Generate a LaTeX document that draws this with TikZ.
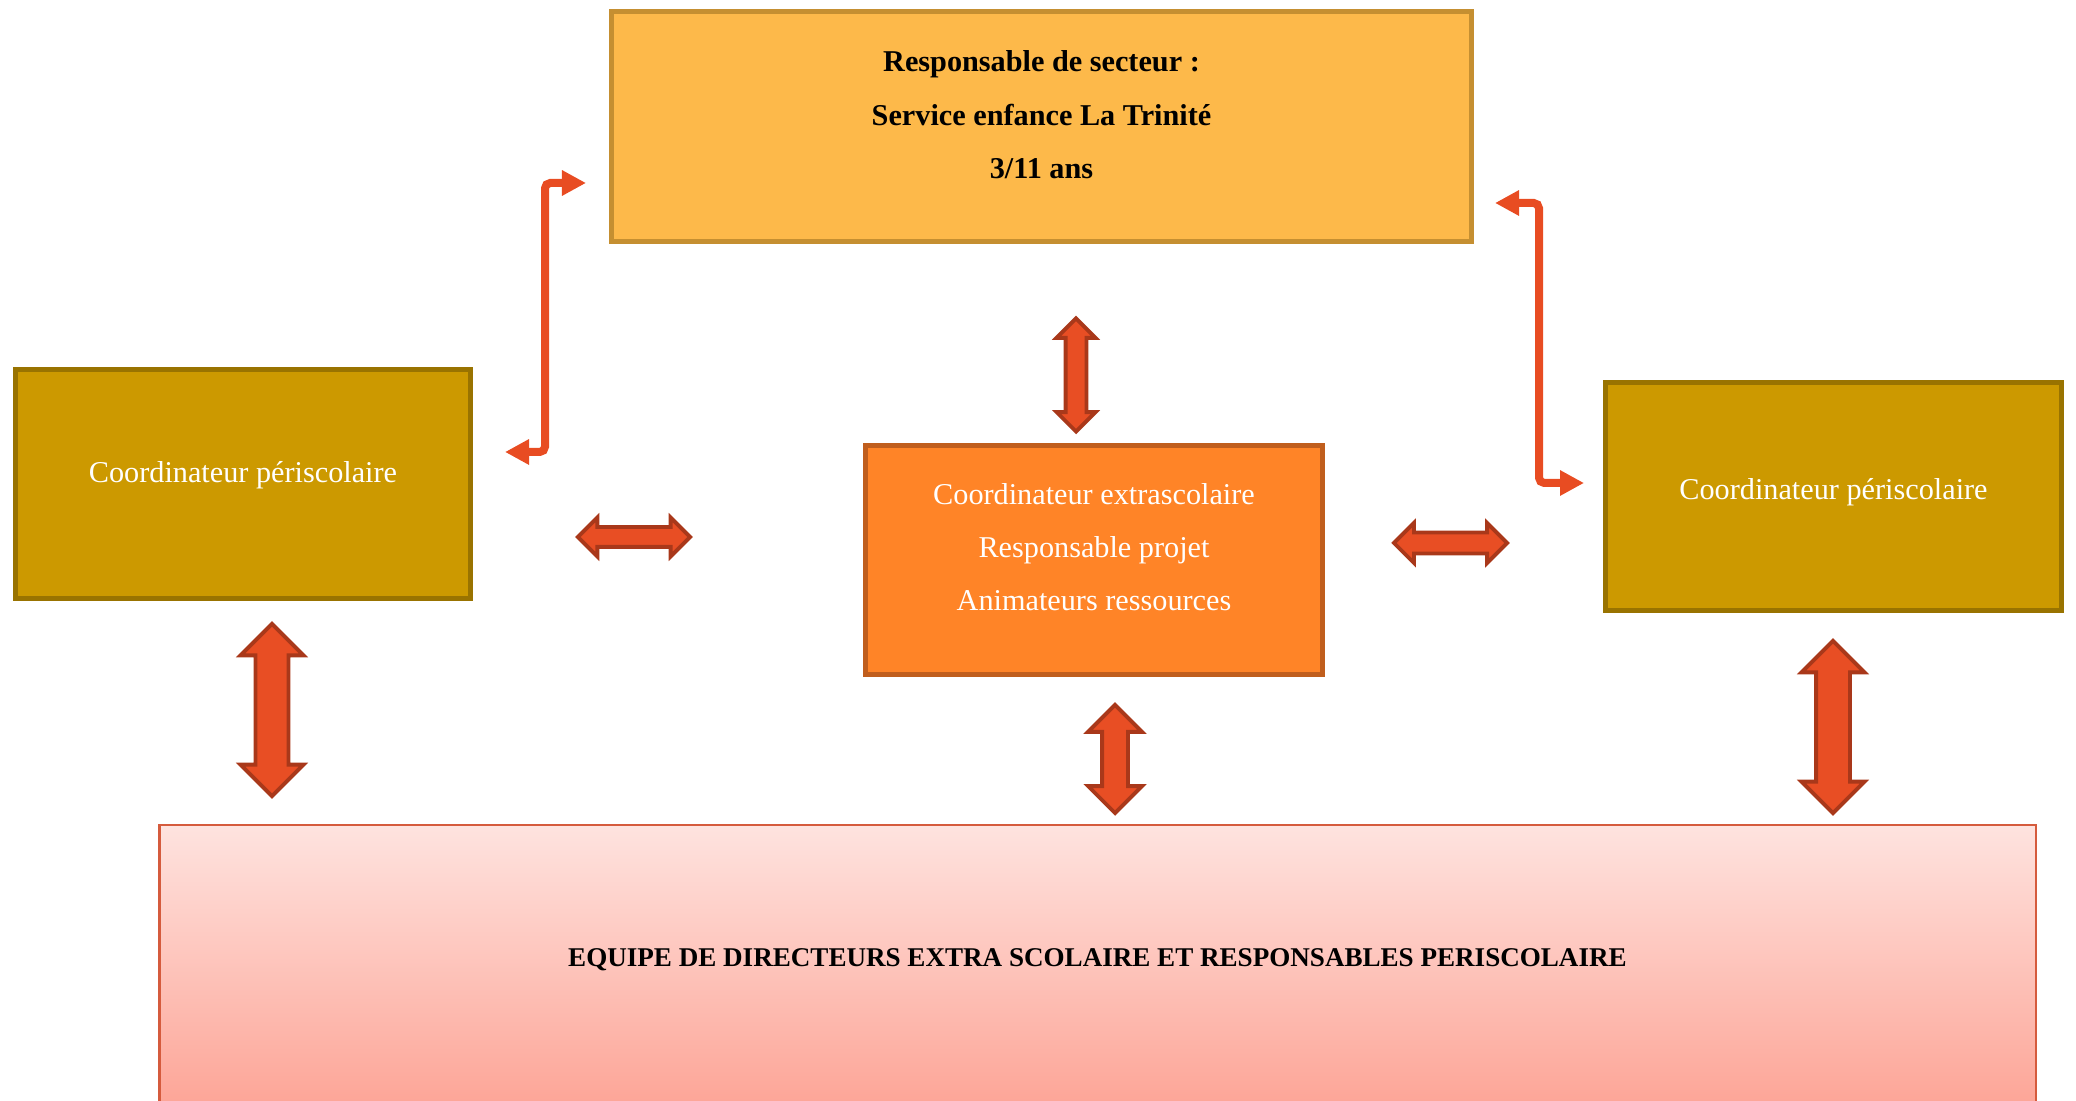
\documentclass[tikz,border=0pt]{standalone}
\usepackage{fontspec}
\setmainfont{Liberation Serif}
\usepackage{tikz}
\usetikzlibrary{shapes.arrows}
\usetikzlibrary{arrows.meta}
\usetikzlibrary{positioning}

\definecolor{secteurfill}{HTML}{FDB94A}
\definecolor{secteurdraw}{HTML}{C58F31}
\definecolor{perifill}{HTML}{CC9900}
\definecolor{peridraw}{HTML}{997300}
\definecolor{extrafill}{HTML}{FF8427}
\definecolor{extradraw}{HTML}{C05E1D}
\definecolor{equipetop}{HTML}{FEE3DF}
\definecolor{equipebottom}{HTML}{FDA597}
\definecolor{equipedraw}{HTML}{D55B3D}
\definecolor{lienfill}{HTML}{E84C22}
\definecolor{blockfill}{HTML}{E84E24}
\definecolor{blockdraw}{HTML}{A9381A}

\begin{document}
\begin{tikzpicture}[x=0.01cm, y=-0.01cm]
				\tikzstyle{boxnode}=[draw, rectangle, line width=1.4pt, align=center, text depth=6.8pt, font=\fontsize{8.6}{15.1}\selectfont]
				\tikzstyle{secteurnode}=[boxnode, draw=secteurdraw, fill=secteurfill, minimum width=8.6cm, minimum height=2.3cm, font=\fontsize{8.6}{15.1}\selectfont\bfseries]
				\tikzstyle{perinode}=[boxnode, draw=peridraw, fill=perifill, text=white, minimum width=4.55cm, minimum height=2.28cm]
				\tikzstyle{extranode}=[boxnode, draw=extradraw, fill=extrafill, text=white, minimum width=4.57cm, minimum height=2.29cm]
				\tikzstyle{blockarrow}=[double arrow, draw=blockdraw, fill=blockfill, line width=1.1pt, inner xsep=0pt]
				\tikzstyle{lien}=[draw=lienfill, line width=0.08cm, rounded corners=1.5pt, {Triangle[length=0.24cm, width=0.24cm]}-{Triangle[length=0.24cm, width=0.24cm]}]
				
				\clip (0,0) rectangle (2076,1101);
				
				\node (secteur) at (1041.5,126.5) [secteurnode] {Responsable de secteur :\\ Service enfance La Trinité\\ 3/11 ans};
				\node (periL) at (243,484) [perinode] {Coordinateur périscolaire};
				\node (extra) at (1094,560) [extranode, text depth=7.5pt] {Coordinateur extrascolaire\\ Responsable projet\\ Animateurs ressources};
				\node (periR) at (1833.5,496.5) [perinode, text depth=4pt] {Coordinateur périscolaire};
				
				\node (equipe) at (1097.5,965) [draw=equipedraw, line width=0.6pt, top color=equipetop, bottom color=equipebottom, minimum width=18.75cm, minimum height=2.8cm, text depth=4pt, font=\fontsize{7.7}{13}\selectfont\bfseries] {EQUIPE DE DIRECTEURS EXTRA SCOLAIRE ET RESPONSABLES PERISCOLAIRE};
				
				% fleches doubles
				\node (aTop) at (1076,375) [blockarrow, rotate=90, minimum height=1.13cm, minimum width=0.35cm, inner ysep=0.085cm, double arrow head extend=0.09cm] {};
				\node (aBot) at (1115,759) [blockarrow, rotate=90, minimum height=1.08cm, minimum width=0.5cm, inner ysep=0.11cm, double arrow head extend=0.14cm] {};
				\node (aLh) at (634,537) [blockarrow, minimum height=1.12cm, minimum width=0.35cm, inner ysep=0.08cm, double arrow head extend=0.095cm] {};
				\node (aRh) at (1450.5,543) [blockarrow, minimum height=1.13cm, minimum width=0.36cm, inner ysep=0.085cm, double arrow head extend=0.095cm] {};
				\node (aLv) at (272,710) [blockarrow, rotate=90, minimum height=1.72cm, minimum width=0.59cm, inner ysep=0.145cm, double arrow head extend=0.15cm] {};
				\node (aRv) at (1833,727) [blockarrow, rotate=90, minimum height=1.72cm, minimum width=0.59cm, inner ysep=0.15cm, double arrow head extend=0.145cm] {};
				
				% liens coudes
				\coordinate (lBas) at (505,452);
				\coordinate (lHaut) at (586,183);
				\coordinate (rHaut) at (1495,203);
				\coordinate (rBas) at (1584,483);
				\draw [lien] (lBas) -- ++(40,0) |- (lHaut);
				\draw [lien] (rHaut) -- ++(44,0) |- (rBas);
\end{tikzpicture}
\end{document}
